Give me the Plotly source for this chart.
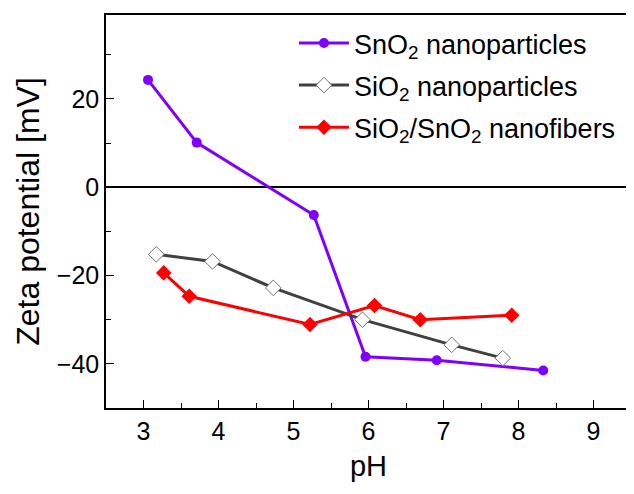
import plotly.graph_objects as go

sno2_ph = [3.06, 3.71, 5.27, 5.96, 6.91, 8.33]
sno2_zeta = [24.3, 10.1, -6.3, -38.4, -39.2, -41.5]

sio2_ph = [3.17, 3.92, 4.73, 5.92, 7.11, 7.79]
sio2_zeta = [-15.2, -16.8, -22.8, -30.0, -35.7, -38.7]

fib_ph = [3.27, 3.61, 5.22, 6.08, 6.69, 7.91]
fib_zeta = [-19.4, -24.7, -31.1, -26.8, -30.0, -29.0]

FONT = "Liberation Sans, Arial, sans-serif"

fig = go.Figure()
fig.add_trace(go.Scatter(x=sno2_ph, y=sno2_zeta, mode="lines+markers",
                         name="SnO<sub>2</sub> nanoparticles", legendgroup="a",
                         line=dict(color="#7F00FF", width=3),
                         marker=dict(symbol="circle", size=10, color="#7F00FF")))
fig.add_trace(go.Scatter(x=sio2_ph, y=sio2_zeta, mode="lines+markers",
                         name="SiO<sub>2</sub> nanoparticles", legendgroup="b",
                         line=dict(color="#404040", width=3),
                         marker=dict(symbol="diamond", size=12, color="white",
                                     line=dict(color="#707070", width=1))))
fig.add_trace(go.Scatter(x=fib_ph, y=fib_zeta, mode="lines+markers",
                         name="SiO<sub>2</sub>/SnO<sub>2</sub> nanofibers", legendgroup="c",
                         line=dict(color="#FF0000", width=3),
                         marker=dict(symbol="diamond", size=12, color="#FF0000")))

fig.update_layout(
    width=626, height=486,
    margin=dict(l=98, r=1, t=7, b=86),
    plot_bgcolor="white", paper_bgcolor="white",
    font=dict(family=FONT, color="black", size=25),
    showlegend=True,
    legend=dict(x=0.358, y=0.99, xanchor="left", yanchor="top",
                bgcolor="rgba(0,0,0,0)", font=dict(size=27),
                tracegroupgap=4, itemwidth=50),
    xaxis=dict(range=[2.5, 9.5], tickvals=[3, 4, 5, 6, 7, 8, 9],
               showline=True, linecolor="black", linewidth=1.5, mirror=True,
               ticks="inside", ticklen=8, tickwidth=1.2, tickcolor="black",
               minor=dict(ticks="inside", ticklen=5, tickwidth=1.2, dtick=0.5, tickcolor="black"),
               showgrid=False, zeroline=False,
               tickfont=dict(size=25),
               title=dict(text="pH", font=dict(size=29), standoff=12)),
    yaxis=dict(range=[-50, 39], tickvals=[-40, -20, 0, 20],
               ticktext=["\u221240", "\u221220", "0", "20"],
               showline=True, linecolor="black", linewidth=1.5, mirror=True,
               ticks="inside", ticklen=8, tickwidth=1.2, tickcolor="black",
               minor=dict(ticks="inside", ticklen=5, tickwidth=1.2, dtick=10, tickcolor="black"),
               showgrid=False, zeroline=True, zerolinecolor="black", zerolinewidth=1.5,
               tickfont=dict(size=25),
               title=dict(text="Zeta potential [mV]", font=dict(size=32), standoff=8)),
)

fig.write_html("out.html")
